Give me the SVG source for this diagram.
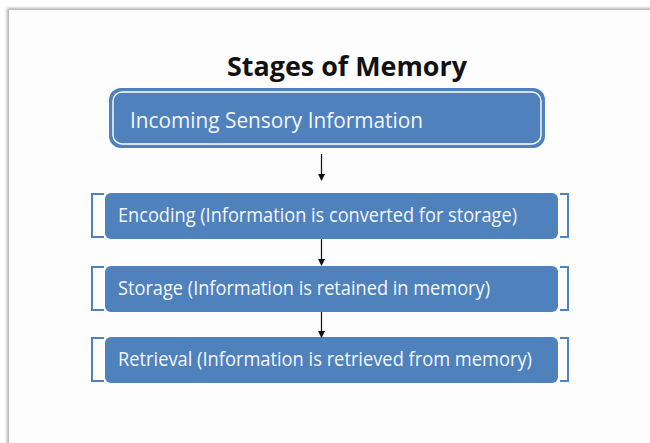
<svg xmlns="http://www.w3.org/2000/svg" width="650" height="443" viewBox="0 0 650 443">
  <defs>
    <filter id="slideShadow" x="-5%" y="-5%" width="110%" height="110%">
      <feGaussianBlur stdDeviation="1.6"/>
    </filter>
    <marker id="arrowHead" markerWidth="7" markerHeight="7" refX="6" refY="3.5" orient="auto" markerUnits="userSpaceOnUse">
      <path d="M0,0 L7,3.5 L0,7 Z" fill="#111"/>
    </marker>
  </defs>
  <style>
    .title { font-family: "Open Sans", "Noto Sans", "Liberation Sans", sans-serif; font-weight: bold; font-size: 26px; fill: #111; }
    .label { font-family: "Open Sans", "Noto Sans", "Liberation Sans", sans-serif; font-size: 20px; fill: #f4f7fb; }
    .big { font-size: 22px; }
    .box { fill: #4f81bd; }
    .bracket { fill: none; stroke: #4f81bd; stroke-width: 2; }
    .conn { stroke: #111; stroke-width: 1.2; fill: none; marker-end: url(#arrowHead); }
  </style>

  <!-- page background and slide with soft edge shadow -->
  <rect x="0" y="0" width="650" height="443" fill="#ffffff"/>
  <rect x="7" y="8" width="660" height="450" fill="#b0b0b0" filter="url(#slideShadow)"/>
  <rect x="9" y="10" width="660" height="450" fill="#fdfdfd"/>

  <text class="title" x="227" y="76" textLength="240" lengthAdjust="spacingAndGlyphs">Stages of Memory</text>

  <g id="incoming">
    <rect x="109" y="88" width="436" height="60" rx="12" ry="12" class="box"/>
    <rect x="113" y="92" width="428" height="52" rx="9" ry="9" fill="none" stroke="#ffffff" stroke-width="1.4"/>
    <text class="label big" x="130" y="128" textLength="293" lengthAdjust="spacingAndGlyphs">Incoming Sensory Information</text>
  </g>

  <g id="encoding">
    <path class="bracket" d="M104,194 H92 V237 H104"/>
    <path class="bracket" d="M560,194 H568 V237 H560"/>
    <rect x="105" y="193" width="453" height="46" rx="6" ry="6" class="box"/>
    <text class="label" x="118" y="222" textLength="399" lengthAdjust="spacingAndGlyphs">Encoding (Information is converted for storage)</text>
  </g>

  <g id="storage">
    <path class="bracket" d="M104,267 H92 V310 H104"/>
    <path class="bracket" d="M560,267 H568 V310 H560"/>
    <rect x="105" y="266" width="453" height="46" rx="6" ry="6" class="box"/>
    <text class="label" x="118" y="295" textLength="372" lengthAdjust="spacingAndGlyphs">Storage (Information is retained in memory)</text>
  </g>

  <g id="retrieval">
    <path class="bracket" d="M104,338 H92 V381 H104"/>
    <path class="bracket" d="M560,338 H568 V381 H560"/>
    <rect x="105" y="337" width="453" height="46" rx="6" ry="6" class="box"/>
    <text class="label" x="118" y="366" textLength="414" lengthAdjust="spacingAndGlyphs">Retrieval (Information is retrieved from memory)</text>
  </g>

  <g id="connectors">
    <line class="conn" x1="321.5" y1="154" x2="321.5" y2="180"/>
    <line class="conn" x1="321.5" y1="239" x2="321.5" y2="265"/>
    <line class="conn" x1="321.5" y1="312" x2="321.5" y2="337"/>
  </g>
</svg>
